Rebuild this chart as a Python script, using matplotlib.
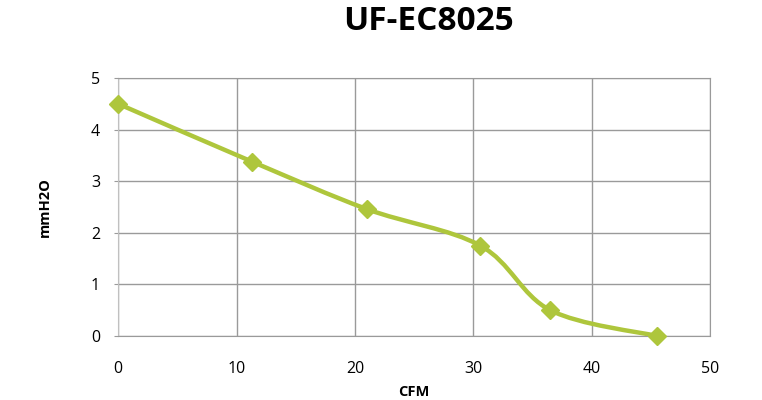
import numpy as np
import matplotlib.pyplot as plt
from matplotlib.path import Path
from matplotlib.patches import PathPatch

cfm = [0, 11.3, 21.0, 30.6, 36.5, 45.5]
mmh2o = [4.5, 3.38, 2.46, 1.75, 0.5, 0.0]
xticks = [0, 10, 20, 30, 40, 50]
yticks = [0, 1, 2, 3, 4, 5]

green = '#AEC63C'
plt.rcParams['font.family'] = ['Open Sans', 'DejaVu Sans']

fig = plt.figure(figsize=(7.62, 4.0), dpi=100)
ax = fig.add_axes([0.155, 0.16, 0.777, 0.645])

# smoothed line like the spreadsheet one (catmull-rom as bezier)
pts = np.column_stack([cfm, mmh2o])
verts = [pts[0]]
codes = [Path.MOVETO]
for i in range(len(pts) - 1):
    p0 = pts[max(i - 1, 0)]
    p1 = pts[i]
    p2 = pts[i + 1]
    p3 = pts[min(i + 2, len(pts) - 1)]
    c1 = p1 + (p2 - p0) / 6
    c2 = p2 - (p3 - p1) / 6
    verts += [c1, c2, p2]
    codes += [Path.CURVE4] * 3
ax.add_patch(PathPatch(Path(verts, codes), fill=False, edgecolor=green, lw=3.2,
                       capstyle='round', joinstyle='round', zorder=3))
ax.plot(cfm, mmh2o, ls='none', marker='D', ms=9, color=green, zorder=4, clip_on=False)

ax.set_xlim(0, 50)
ax.set_ylim(0, 5)
ax.set_xticks(xticks)
ax.set_yticks(yticks)
ax.grid(True, color='#9a9a9a', lw=1)
ax.set_axisbelow(True)
for s in ax.spines.values():
    s.set_color('#9a9a9a')
ax.spines['left'].set_color('#c0c0c0')
ax.tick_params(axis='both', length=3, color='#9a9a9a', labelsize=11.5)
ax.tick_params(axis='y', pad=10)
ax.tick_params(axis='x', length=0, pad=18)

ax.set_xlabel('CFM', fontsize=10.5, fontweight='bold', labelpad=6)
ax.set_ylabel('mmH2O', fontsize=10.5, fontweight='bold', labelpad=28)
fig.text(0.562, 0.945, 'UF-EC8025', ha='center', va='center', fontsize=24, fontweight='bold')

plt.savefig('out.png', dpi=100)
